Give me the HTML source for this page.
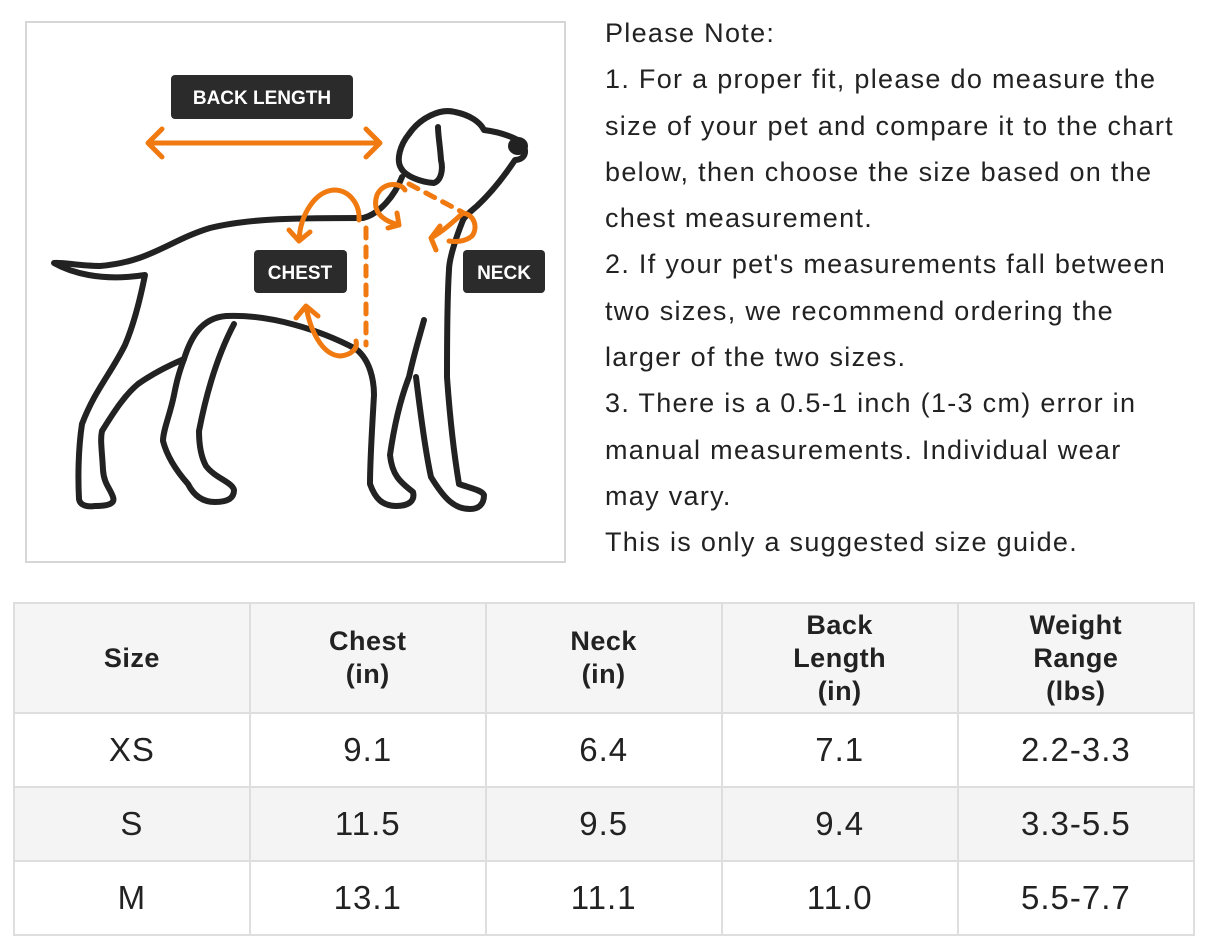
<!DOCTYPE html>
<html><head><meta charset="utf-8"><style>
body{margin:0;width:1206px;height:937px;background:#fff;position:relative;overflow:hidden;font-family:"Liberation Sans","Noto Sans CJK SC",sans-serif;color:#222}
.box{position:absolute;left:25px;top:21px;width:541px;height:542px;border:2px solid #d6d6d6;box-sizing:border-box}
.note{position:absolute;left:605px;top:10px;font-size:27px;letter-spacing:1.3px;line-height:46.3px;color:#222;white-space:nowrap}
table{position:absolute;left:13px;top:602px;border-collapse:collapse;width:1182px}
td{border:2px solid #dedede;text-align:center;width:236px;font-size:33px;letter-spacing:1px;height:72px;padding:0}
tr.h td{font-weight:bold;font-size:27px;letter-spacing:0.5px;height:108px;line-height:33px;background:#f5f5f5}
tr.g td{background:#f4f4f4}
</style></head><body>
<div class="box"></div>
<svg width="600" height="580" style="position:absolute;left:0;top:0" viewBox="0 0 600 580">
<g fill="none" stroke="#222" stroke-width="6" stroke-linecap="round" stroke-linejoin="round">
<path d="M363,218 C300,218 250,218 210,228 C170,240 150,262 100,266 C80,266 62,262 54,263 C70,272 100,282 145,275 C140,300 134,324 125,345 C110,375 95,390 82,424 C78,450 78,480 79,499 C80,506 88,507 95,506 C110,506 115,503 113,497 C110,488 104,484 103,470 C102,450 100,440 102,431 C115,410 125,395 138,384 C155,372 170,365 184,359"/>
<path d="M184,359 C178,375 176,385 174,395 C170,415 163,430 163,441 C168,460 180,475 188,484 C195,498 205,502 215,502 C228,502 234,498 234,490 C232,482 215,478 206,466 C200,455 199,440 199,431 C205,400 215,360 234,324"/>
<path d="M184,359 C190,340 200,318 226,316 C270,314 320,330 356,349 C370,360 374,380 374,395 C372,430 370,460 370,484 C375,498 382,506 396,506 C410,506 415,500 413,492 C400,482 392,475 390,455 C395,420 402,395 409,377 C415,350 420,335 424,320"/>
<path d="M363,218 C380,214 395,195 402,177"/>
<path d="M409,134 C400,145 396,160 401,168 C405,176 420,182 434,183 C442,180 443,168 441,160 C440,145 438,135 438,127"/>
<path d="M409,134 C420,118 440,108 455,112 C470,115 480,122 484,130 C500,132 510,136 518,140 C530,150 525,160 515,160 C505,175 492,192 477,206 C470,212 465,216 463,220 C455,240 449,260 449,270 C447,300 447,340 447,377 C450,420 455,460 459,484 C470,488 482,490 484,495 C484,505 478,509 470,509 C455,509 445,500 431,477 C425,450 420,410 416,377"/>
</g>
<ellipse cx="518" cy="146" rx="10" ry="9" fill="#222"/>
<g fill="none" stroke="#f07a10" stroke-width="5" stroke-linecap="round" stroke-linejoin="round">
<path d="M148,143 H380 M162,129 L148,143 L162,157 M366,129 L380,143 L366,157"/>
<path d="M299,241 C300,215 315,191 334,190 C350,190 360,205 359,220 M289,230 L299,241 L310,232"/>
<path d="M306,306 C310,330 322,355 340,356 C352,355 358,348 356,341 M296,318 L306,306 L318,316"/>
<path d="M399,225 C380,220 372,210 377,195 C383,182 400,182 405,190 M388,228 L399,225 L397,213"/>
<path d="M431,238 C445,230 455,220 463,213 C475,215 478,228 472,236 C465,242 455,242 449,241 M431,238 L440,226 M431,238 L436,250"/>
<path d="M366,228 V345 M409,184 L462,212" stroke-dasharray="10 9"/>
</g>
<g font-family="Liberation Sans,sans-serif" font-weight="bold" fill="#fff" font-size="19" text-anchor="middle">
<rect x="171" y="75" width="182" height="44" rx="4" fill="#2b2b2b"/><text x="262" y="104">BACK LENGTH</text>
<rect x="254" y="250" width="93" height="43" rx="4" fill="#2b2b2b"/><text x="300" y="279">CHEST</text>
<rect x="463" y="250" width="82" height="43" rx="4" fill="#2b2b2b"/><text x="504" y="279">NECK</text>
</g>
</svg>
<div class="note">Please Note:<br>1. For a proper fit, please do measure the<br>size of your pet and compare it to the chart<br>below, then choose the size based on the<br>chest measurement.<br>2. If your pet's measurements fall between<br>two sizes, we recommend ordering the<br>larger of the two sizes.<br>3. There is a 0.5-1 inch (1-3 cm) error in<br>manual measurements. Individual wear<br>may vary.<br>This is only a suggested size guide.</div>
<table>
<tr class="h"><td>Size</td><td>Chest<br>(in)</td><td>Neck<br>(in)</td><td>Back<br>Length<br>(in)</td><td>Weight<br>Range<br>(lbs)</td></tr>
<tr><td>XS</td><td>9.1</td><td>6.4</td><td>7.1</td><td>2.2-3.3</td></tr>
<tr class="g"><td>S</td><td>11.5</td><td>9.5</td><td>9.4</td><td>3.3-5.5</td></tr>
<tr><td>M</td><td>13.1</td><td>11.1</td><td>11.0</td><td>5.5-7.7</td></tr>
</table>
</body></html>
